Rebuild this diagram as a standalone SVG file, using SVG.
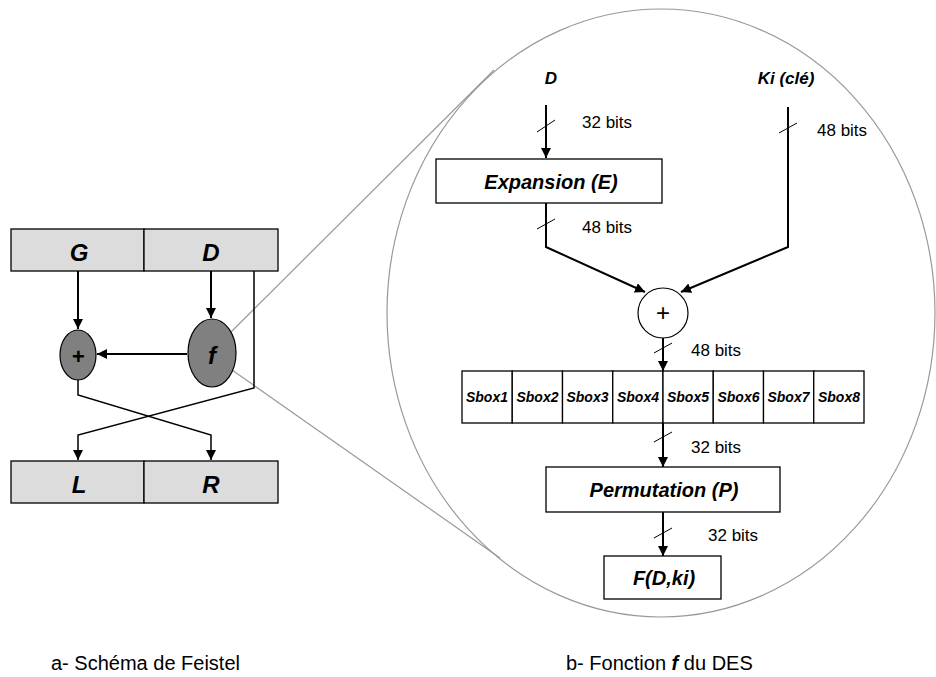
<svg xmlns="http://www.w3.org/2000/svg" width="936" height="677" viewBox="0 0 936 677">
<style>
  .bi { font-family: "Liberation Sans", Arial, sans-serif; font-weight: bold; font-style: italic; fill: #000; }
  .rg { font-family: "Liberation Sans", Arial, sans-serif; fill: #000; }
  .box { fill: #fff; stroke: #000; stroke-width: 1.3; }
  .gbox { fill: #dcdcdc; stroke: #000; stroke-width: 1.3; }
  .ln { fill: none; stroke: #000; stroke-width: 2; }
  .ln1 { fill: none; stroke: #000; stroke-width: 1.5; }
  .sl { fill: none; stroke: #000; stroke-width: 1; }
  .gray { fill: none; stroke: #999; stroke-width: 1.2; }
</style>
<defs>
  <marker id="ah" viewBox="0 0 10 10" refX="10" refY="5" markerWidth="10" markerHeight="10" markerUnits="userSpaceOnUse" orient="auto">
    <path d="M0,0 L10,5 L0,10 z" fill="#000"/>
  </marker>
</defs>
<rect width="936" height="677" fill="#fff"/>

<!-- zoom circle and gray guide lines -->
<g id="zoom">
  <ellipse class="gray" cx="661" cy="313" rx="274" ry="304"/>
  <line class="gray" x1="229" y1="334" x2="494" y2="70"/>
  <line class="gray" x1="232" y1="370" x2="500" y2="558"/>
</g>

<!-- Feistel scheme -->
<g id="top-box">
  <rect class="gbox" x="11" y="229" width="133" height="42"/>
  <rect class="gbox" x="144" y="229" width="134" height="42"/>
  <text class="bi" x="79" y="261" font-size="24" text-anchor="middle">G</text>
  <text class="bi" x="211" y="261" font-size="24" text-anchor="middle">D</text>
</g>
<g id="bottom-box">
  <rect class="gbox" x="11" y="461" width="133" height="42"/>
  <rect class="gbox" x="144" y="461" width="134" height="42"/>
  <text class="bi" x="79" y="493" font-size="24" text-anchor="middle">L</text>
  <text class="bi" x="211" y="493" font-size="24" text-anchor="middle">R</text>
</g>
<g id="xor-left">
  <ellipse cx="78" cy="355" rx="18" ry="25" fill="#808080" stroke="#000" stroke-width="1.2"/>
  <text class="bi" x="78" y="364" font-size="22" text-anchor="middle">+</text>
</g>
<g id="f-node">
  <ellipse cx="212" cy="353" rx="24" ry="34" fill="#808080" stroke="#000" stroke-width="1.2"/>
  <text class="bi" x="212" y="364" font-size="24" text-anchor="middle">f</text>
</g>

<!-- DES f function -->
<g id="label-D"><text class="bi" x="551" y="84" font-size="17" text-anchor="middle">D</text></g>
<g id="label-Ki"><text class="bi" x="786" y="84" font-size="17" text-anchor="middle">Ki (clé)</text></g>
<g id="expansion">
  <rect class="box" x="436" y="159" width="226" height="44"/>
  <text class="bi" x="551" y="189" font-size="20" text-anchor="middle">Expansion (E)</text>
</g>
<g id="xor-right">
  <circle cx="663" cy="313" r="25" fill="#fff" stroke="#000" stroke-width="1.2"/>
  <text class="rg" x="663" y="321" font-size="24" text-anchor="middle">+</text>
</g>
<g id="sboxes">
  <rect class="box" x="462" y="371" width="50.25" height="52"/>
  <rect class="box" x="512.25" y="371" width="50.25" height="52"/>
  <rect class="box" x="562.5" y="371" width="50.25" height="52"/>
  <rect class="box" x="612.75" y="371" width="50.25" height="52"/>
  <rect class="box" x="663" y="371" width="50.25" height="52"/>
  <rect class="box" x="713.25" y="371" width="50.25" height="52"/>
  <rect class="box" x="763.5" y="371" width="50.25" height="52"/>
  <rect class="box" x="813.75" y="371" width="50.25" height="52"/>
  <text class="bi" x="487" y="402" font-size="14" text-anchor="middle">Sbox1</text>
  <text class="bi" x="537.5" y="402" font-size="14" text-anchor="middle">Sbox2</text>
  <text class="bi" x="587.5" y="402" font-size="14" text-anchor="middle">Sbox3</text>
  <text class="bi" x="638" y="402" font-size="14" text-anchor="middle">Sbox4</text>
  <text class="bi" x="688" y="402" font-size="14" text-anchor="middle">Sbox5</text>
  <text class="bi" x="738.5" y="402" font-size="14" text-anchor="middle">Sbox6</text>
  <text class="bi" x="788.5" y="402" font-size="14" text-anchor="middle">Sbox7</text>
  <text class="bi" x="839" y="402" font-size="14" text-anchor="middle">Sbox8</text>
</g>
<g id="permutation">
  <rect class="box" x="546" y="467" width="234" height="45"/>
  <text class="bi" x="664" y="497" font-size="20" text-anchor="middle">Permutation (P)</text>
</g>
<g id="output">
  <rect class="box" x="604" y="556" width="117" height="43"/>
  <text class="bi" x="664" y="585" font-size="20" text-anchor="middle">F(D,ki)</text>
</g>

<g id="connectors">
  <!-- Feistel -->
  <line class="ln" x1="78" y1="271" x2="78" y2="329" marker-end="url(#ah)"/>
  <line class="ln" x1="211" y1="271" x2="211" y2="318" marker-end="url(#ah)"/>
  <line class="ln" x1="187" y1="354" x2="97" y2="354" marker-end="url(#ah)"/>
  <polyline class="ln1" points="254,271 254,388 78,435 78,460" marker-end="url(#ah)"/>
  <polyline class="ln1" points="78,380 78,395 211,435 211,460" marker-end="url(#ah)"/>
  <!-- f function -->
  <line class="ln" x1="546" y1="105" x2="546" y2="158" marker-end="url(#ah)"/>
  <line class="sl" x1="537" y1="132" x2="555" y2="120"/>
  <polyline class="ln" points="546,203 546,247 645,292" marker-end="url(#ah)"/>
  <line class="sl" x1="537" y1="229" x2="555" y2="219"/>
  <polyline class="ln" points="788,107 788,247 681,292" marker-end="url(#ah)"/>
  <line class="sl" x1="779" y1="133" x2="797" y2="123"/>
  <line class="ln" x1="663" y1="338" x2="663" y2="371" marker-end="url(#ah)"/>
  <line class="sl" x1="654" y1="353" x2="672" y2="343"/>
  <line class="ln" x1="663" y1="423" x2="663" y2="467" marker-end="url(#ah)"/>
  <line class="sl" x1="654" y1="442" x2="672" y2="432"/>
  <line class="ln" x1="663" y1="512" x2="663" y2="556" marker-end="url(#ah)"/>
  <line class="sl" x1="654" y1="538" x2="672" y2="528"/>
</g>

<g id="bit-labels">
  <text class="rg" x="582" y="128" font-size="17">32 bits</text>
  <text class="rg" x="582" y="233" font-size="17">48 bits</text>
  <text class="rg" x="817" y="136" font-size="17">48 bits</text>
  <text class="rg" x="691" y="356" font-size="17">48 bits</text>
  <text class="rg" x="691" y="453" font-size="17">32 bits</text>
  <text class="rg" x="708" y="541" font-size="17">32 bits</text>
</g>

<g id="captions">
  <text class="rg" x="51" y="670" font-size="20">a- Schéma de Feistel</text>
  <text class="rg" x="566" y="670" font-size="20">b- Fonction <tspan font-weight="bold" font-style="italic">f</tspan> du DES</text>
</g>
</svg>
